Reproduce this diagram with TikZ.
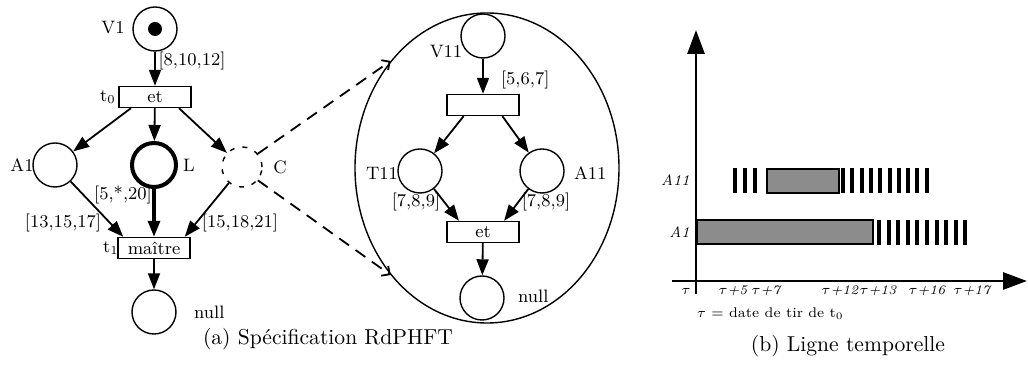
\documentclass[tikz,border=0pt]{standalone}
\usepackage{tikz}
\usetikzlibrary{positioning,arrows.meta,shapes.geometric}
\begin{document}
\begin{tikzpicture}[x=0.5pt,y=-0.5pt,font=\small,
  place/.style={circle,draw,line width=0.7pt,minimum size=22pt,inner sep=0pt},
  trans/.style={draw,line width=0.7pt,minimum width=36pt,minimum height=10.5pt,inner sep=0pt},
  arc/.style={-{Triangle[length=8pt,width=6pt]},line width=0.9pt},
  zoomline/.style={dash pattern=on 6pt off 4pt,line width=0.9pt,-{Straight Barb[length=3pt,width=6pt]}},
  bar/.style={line width=2pt},
  busy/.style={draw,line width=0.8pt,fill=black!45},
  axis/.style={line width=1.4pt,-{Triangle[length=12pt,width=8.5pt]}},
  tlab/.style={font=\fontsize{6.6}{8}\selectfont\itshape,inner sep=1pt},
  captxt/.style={font=\fontsize{10.8}{13}\selectfont}]
\useasboundingbox (0,0) rectangle (1028,367);
\node[place] (v1) at (155,29) {};
\fill (v1) circle[radius=3.5pt];
\node[trans] (t0) at (155,97) {et};
\node[place] (a1) at (55,165) {};
\node[place,line width=2pt] (l) at (154,165) {};
\node[place,minimum size=20pt,dash pattern=on 2.5pt off 4pt] (c) at (242,167) {};
\node[trans] (t1) at (154,248) {maître};
\node[place] (n1) at (154,312) {};
\node (v1lbl) at (113,28) {V1};
\node (t0lbl) at (108,97) {t$_0$};
\node (a1lbl) at (22,165) {A1};
\node (llbl) at (189,165) {L};
\node (clbl) at (280,167) {C};
\node (w1) at (192,61) {[8,10,12]};
\node (w2) at (123,195) {[5,*,20]};
\node (w3) at (63,223) {[13,15,17]};
\node (w4) at (240,223) {[15,18,21]};
\node (t1lbl) at (111,248) {t$_1$};
\node[anchor=west] (n1lbl) at (187,312) {null};
\node[captxt] (capa) at (328,339) {(a) Spécification RdPHFT};
\draw[arc] (v1) -- (t0);
\draw[arc] (t0.-155) -- (a1);
\draw[arc] (t0) -- (l);
\draw[arc] (t0.-25) -- (c);
\draw[arc] (a1) -- (t1.160);
\draw[arc,line width=1.6pt] (l) -- (t1);
\draw[arc] (c) -- (t1.20);
\draw[arc] (t1) -- (n1);
\node[ellipse,draw,line width=0.7pt,minimum width=132pt,minimum height=155pt,inner sep=0pt] (detail) at (487,168) {};
\node[place] (v11) at (483,36) {};
\node[trans] (t2) at (483,105) {};
\node[place] (t11) at (420,171) {};
\node[place] (a11) at (542,171) {};
\node[trans] (t3) at (483,232) {et};
\node[place] (n2) at (482,298) {};
\node (v11lbl) at (446,52) {V11};
\node[anchor=west] (w5) at (494,80) {[5,6,7]};
\node (t11lbl) at (382,173) {T11};
\node[anchor=west] (a11lbl) at (567,173) {A11};
\node (w6) at (416,202) {[7,8,9]};
\node (w7) at (546,202) {[7,8,9]};
\node[anchor=west] (n2lbl) at (511,296) {null};
\draw[arc] (v11) -- (t2);
\draw[arc] (t2.-150) -- (t11);
\draw[arc] (t2.-30) -- (a11);
\draw[arc] (t11) -- (t3.155);
\draw[arc] (a11) -- (t3.28);
\draw[arc] (t3) -- (n2);
\draw[zoomline] (c.40) -- (detail.132);
\draw[zoomline] (c.-40) -- (detail.228);
\coordinate (ybot) at (696,294);
\coordinate (ytop) at (696,30);
\coordinate (xbeg) at (672,281);
\coordinate (xend) at (1027,281);
\draw[busy] (767,169) rectangle (839,193);
\foreach \x in {735,745,755} \draw[bar] (\x,168) -- (\x,193);
\foreach \i in {0,...,9} \draw[bar] ({843+9.3*\i},168) -- ++(0,25);
\draw[busy] (697,220) rectangle (873,244);
\foreach \i in {0,...,9} \draw[bar] ({879+9.6*\i},220) -- ++(0,25);
\draw[axis] (ybot) -- (ytop);
\draw[axis] (xbeg) -- (xend);
\node[tlab,anchor=east,font=\fontsize{7.5}{9}\selectfont\itshape] (a11row) at (692,180) {A11};
\node[tlab,anchor=east,font=\fontsize{7.5}{9}\selectfont\itshape] (a1row) at (692,232) {A1};
\node[tlab] (tau) at (686,291) {$\tau$};
\foreach \x/\d in {733/5,766/7,840/12,878/13,927/16,972/17}
  \node[tlab] (tau\d) at (\x,291) {$\tau$+\d};
\node[anchor=west,font=\fontsize{7}{9}\selectfont] (taudef) at (690,314) {$\tau$ = date de tir de t$_0$};
\node[captxt] (capb) at (848,346) {(b) Ligne temporelle};
\end{tikzpicture}
\end{document}
